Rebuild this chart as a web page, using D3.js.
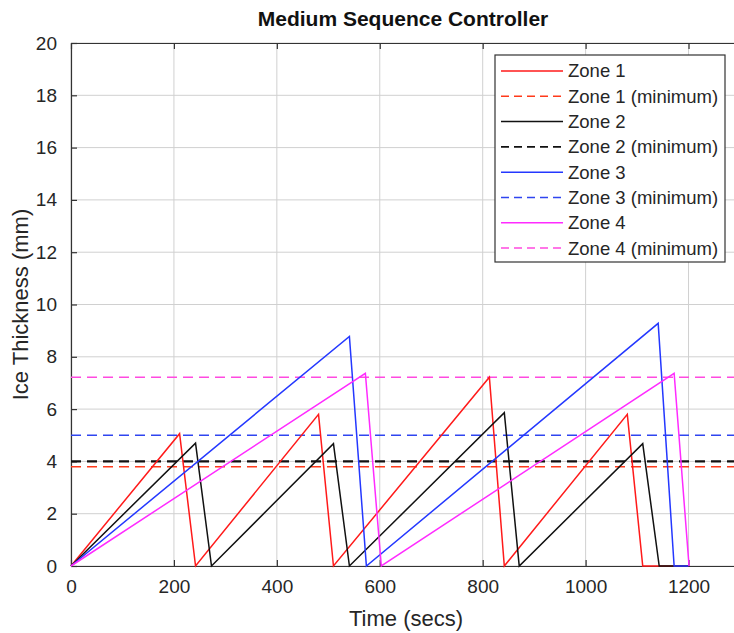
<!DOCTYPE html>
<html>
<head>
<meta charset="utf-8">
<script src="https://cdn.jsdelivr.net/npm/d3@7"></script>
<style>
  body { margin: 0; background: #fff; }
  svg { display: block; font-family: "Liberation Sans", Arial, sans-serif; }
</style>
</head>
<body>
<div id="chart"></div>
<script>
// series (time in secs, thickness in mm)
const zone1T = [0, 211, 242, 481, 510, 813, 842, 1081, 1111, 1200]
const zone1V = [0, 5.06, 0, 5.8, 0, 7.22, 0, 5.8, 0, 0]
const zone2T = [0, 242, 273, 510, 541, 842, 871, 1111, 1143, 1200]
const zone2V = [0, 4.7, 0, 4.68, 0, 5.86, 0, 4.68, 0, 0]
const zone3T = [0, 541, 574, 1141, 1172, 1200]
const zone3V = [0, 8.78, 0, 9.28, 0, 0]
const zone4T = [0, 572, 603, 1172, 1201]
const zone4V = [0, 7.37, 0, 7.37, 0]
const minimums = [3.8, 4.0, 5.0, 7.22]
const zoneNames = ["Zone 1", "Zone 2", "Zone 3", "Zone 4"]
const zoneColors = ["#ff1a1a", "#111111", "#2438ff", "#ff2bff"]
const minColors = ["#ff3a1a", "#111111", "#2f45f0", "#ff4ae0"]
const xTicks = [0, 200, 400, 600, 800, 1000, 1200]
const yTicks = d3.range(0, 21, 2)

const width = 734, height = 633
const margin = {top: 43, left: 71, bottom: 67}
const plotRight = 740

let svg = d3.select("#chart").append("svg")
  .attr("width", width)
  .attr("height", height)

let x = d3.scaleLinear().domain([0, 1300]).range([margin.left, plotRight])
let y = d3.scaleLinear().domain([0, 20]).range([height - margin.bottom, margin.top])

// grid
let grid = svg.append("g").attr("stroke", "#d0d0d0").attr("stroke-width", 1)
xTicks.forEach(t => {
  grid.append("line").attr("x1", x(t)).attr("x2", x(t))
    .attr("y1", y(0)).attr("y2", y(20))
})
yTicks.forEach(t => {
  grid.append("line").attr("x1", x(0)).attr("x2", plotRight)
    .attr("y1", y(t)).attr("y2", y(t))
})

// axes (matlab style, ticks inward)
let xAxis = svg.append("g")
  .attr("transform", "translate(0," + y(0) + ")")
  .call(d3.axisBottom(x).tickValues(xTicks).tickFormat(d3.format("d"))
    .tickSizeInner(-6).tickSizeOuter(0).tickPadding(14))
let yAxis = svg.append("g")
  .attr("transform", "translate(" + x(0) + ",0)")
  .call(d3.axisLeft(y).tickValues(yTicks).tickSizeInner(-6).tickSizeOuter(0).tickPadding(14))
let xTop = svg.append("g")
  .attr("transform", "translate(0," + y(20) + ")")
  .call(d3.axisTop(x).tickValues(xTicks).tickSizeInner(-6).tickSizeOuter(0).tickFormat(""))

;[xAxis, yAxis, xTop].forEach(a => {
  a.selectAll("path, line").attr("stroke", "#333").attr("stroke-width", 1.2)
  a.selectAll("text").attr("fill", "#262626").style("font-size", "19px")
    .style("font-family", "Liberation Sans, Arial, sans-serif")
})

// minimum lines (dashed)
minimums.forEach((m, i) => {
  svg.append("line")
    .attr("x1", x(0)).attr("x2", plotRight)
    .attr("y1", y(m)).attr("y2", y(m))
    .attr("stroke", minColors[i])
    .attr("stroke-width", i == 1 ? 2.4 : 1.5)
    .attr("stroke-dasharray", "10,6")
})

// zone traces
let series = [
  zone1T.map((t, i) => [t, zone1V[i]]),
  zone2T.map((t, i) => [t, zone2V[i]]),
  zone3T.map((t, i) => [t, zone3V[i]]),
  zone4T.map((t, i) => [t, zone4V[i]])
]
let line = d3.line().x(d => x(d[0])).y(d => y(d[1]))
series.forEach((s, i) => {
  svg.append("path")
    .datum(s)
    .attr("d", line)
    .attr("fill", "none")
    .attr("stroke", zoneColors[i])
    .attr("stroke-width", 1.5)
    .attr("stroke-linejoin", "miter")
})

// titles
svg.append("text")
  .attr("x", 403).attr("y", 26)
  .attr("text-anchor", "middle")
  .style("font-size", "21px").style("font-weight", "bold")
  .attr("fill", "#111")
  .text("Medium Sequence Controller")

svg.append("text")
  .attr("x", 406).attr("y", 626)
  .attr("text-anchor", "middle")
  .style("font-size", "22px")
  .attr("fill", "#262626")
  .text("Time (secs)")

svg.append("text")
  .attr("transform", "translate(28," + y(10) + ") rotate(-90)")
  .attr("text-anchor", "middle")
  .style("font-size", "22px")
  .attr("fill", "#262626")
  .text("Ice Thickness (mm)")

// legend
let legend = svg.append("g").attr("transform", "translate(495,55)")
legend.append("rect")
  .attr("width", 230).attr("height", 207)
  .attr("fill", "#fff").attr("stroke", "#333").attr("stroke-width", 1.2)

let entries = []
zoneNames.forEach((n, i) => {
  entries.push({label: n, color: zoneColors[i], dash: null, w: 1.5})
  entries.push({label: n + " (minimum)", color: minColors[i], dash: "8,5", w: i == 1 ? 1.8 : 1.5})
})
entries.forEach((e, i) => {
  let yy = 16 + i * 25.3
  legend.append("line")
    .attr("x1", 6).attr("x2", 68)
    .attr("y1", yy).attr("y2", yy)
    .attr("stroke", e.color).attr("stroke-width", e.w)
    .attr("stroke-dasharray", e.dash)
  legend.append("text")
    .attr("x", 73).attr("y", yy)
    .attr("dy", "0.35em")
    .style("font-size", "18.5px")
    .attr("fill", "#262626")
    .text(e.label)
})
</script>
</body>
</html>
